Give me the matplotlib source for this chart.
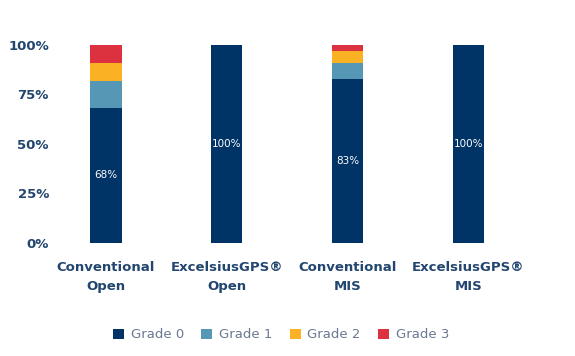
import matplotlib
matplotlib.use("Agg")
import matplotlib.pyplot as plt
import numpy as np

categories = ["Conventional\nOpen", "ExcelsiusGPS®\nOpen", "Conventional\nMIS", "ExcelsiusGPS®\nMIS"]
series_names = ["Grade 0", "Grade 1", "Grade 2", "Grade 3"]
grade0 = [68, 100, 83, 100]
grade1 = [14, 0, 8, 0]
grade2 = [9, 0, 6, 0]
grade3 = [9, 0, 3, 0]
bar_labels = ["68%", "100%", "83%", "100%"]
yticks = [0, 25, 50, 75, 100]
ytick_labels = ["0%", "25%", "50%", "75%", "100%"]

colors = ["#003366", "#5597b4", "#fbb124", "#dc3240"]
text_color = "#22466f"

plt.rcParams['font.family'] = ['DejaVu Sans']

fig = plt.figure(figsize=(5.75, 3.56), dpi=100)
ax = fig.add_axes([60/575, (356-242.7)/356, 500/575, (242.7-45)/356])

x = np.arange(len(categories))
width = 0.26
bottom = np.zeros(len(categories))
for vals, name, c in zip([grade0, grade1, grade2, grade3], series_names, colors):
    ax.bar(x, vals, width, bottom=bottom, color=c, label=name)
    bottom += np.array(vals)

for xi, v, lab in zip(x, grade0, bar_labels):
    ax.text(xi, v / 2, lab, ha="center", va="center", color="white", fontsize=7.5)

ax.set_xlim(-0.38, 3.76)
ax.set_ylim(0, 100)
ax.set_yticks(yticks)
ax.set_yticklabels(ytick_labels, fontsize=9.5, fontweight="bold", color=text_color)
ax.set_xticks(x)
ax.set_xticklabels(categories, fontsize=9.5, fontweight="bold", color=text_color, linespacing=1.6)
ax.tick_params(axis="both", length=0)
ax.tick_params(axis="y", pad=8)
ax.tick_params(axis="x", pad=13)
for s in ax.spines.values():
    s.set_visible(False)

leg = fig.legend(loc="center", bbox_to_anchor=(281/575, 1 - 335/356), ncol=4, frameon=False,
                 fontsize=9.5, handlelength=0.85, handleheight=0.85, handletextpad=0.5, columnspacing=1.3)
for t in leg.get_texts():
    t.set_color("#6b7890")

fig.savefig("out.png", dpi=100)
